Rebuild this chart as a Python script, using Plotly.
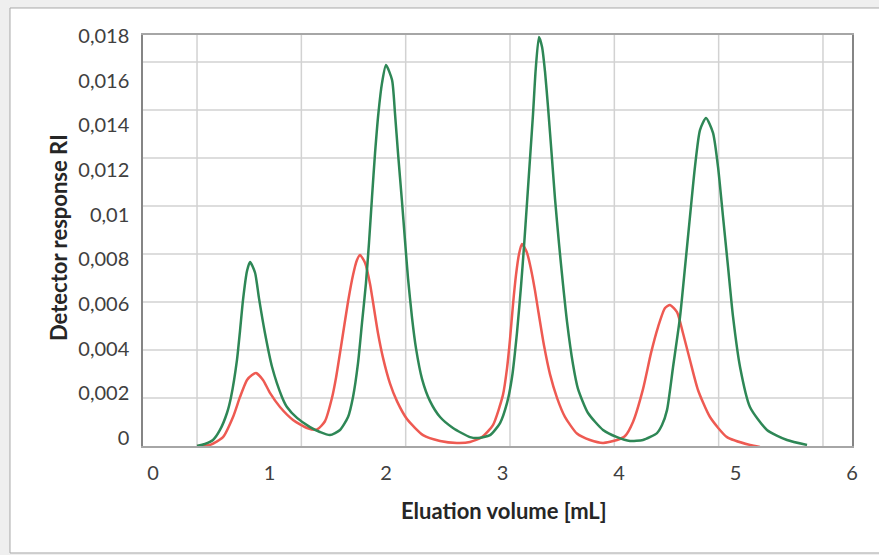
import plotly.graph_objects as go

# ---------------- data ----------------
VOLUME_GREEN = [0.378, 0.446, 0.515, 0.575, 0.635, 0.670, 0.721, 0.747, 0.773, 0.807,
                0.833, 0.876, 0.910, 0.961, 1.021, 1.107, 1.150, 1.236, 1.348, 1.433,
                1.519, 1.605, 1.674, 1.717, 1.760, 1.794, 1.828, 1.854, 1.880, 1.906,
                1.935, 1.966, 2.000, 2.052, 2.077, 2.103, 2.137, 2.163, 2.189, 2.223,
                2.258, 2.309, 2.378, 2.464, 2.575, 2.721, 2.790, 2.893, 2.979, 3.039,
                3.082, 3.124, 3.159, 3.185, 3.210, 3.236, 3.262, 3.285, 3.313, 3.340,
                3.365, 3.391, 3.425, 3.451, 3.485, 3.519, 3.554, 3.605, 3.648, 3.734,
                3.863, 3.983, 4.094, 4.206, 4.326, 4.369, 4.412, 4.464, 4.524, 4.567,
                4.609, 4.652, 4.695, 4.747, 4.807, 4.850, 4.893, 4.936, 4.979, 5.039,
                5.124, 5.270, 5.442, 5.614]
RESPONSE_GREEN = [-0.00036, -0.00027, -0.00009, 0.00036, 0.00112, 0.00184, 0.00350, 0.00480, 0.00620, 0.00748,
                  0.00788, 0.00740, 0.00625, 0.00470, 0.00320, 0.00184, 0.00139, 0.00090, 0.00049, 0.00027,
                  0.00013, 0.00036, 0.00094, 0.00184, 0.00336, 0.00515, 0.00694, 0.00873, 0.01079, 0.01276,
                  0.01455, 0.01590, 0.01670, 0.01603, 0.01455, 0.01276, 0.01060, 0.00885, 0.00715, 0.00540,
                  0.00400, 0.00265, 0.00165, 0.00094, 0.00045, 0.00004, 0.00000, 0.00013, 0.00067, 0.00157,
                  0.00273, 0.00470, 0.00680, 0.00860, 0.01050, 0.01250, 0.01450, 0.01650, 0.01796, 0.01750,
                  0.01640, 0.01480, 0.01250, 0.01070, 0.00870, 0.00690, 0.00520, 0.00330, 0.00220, 0.00112,
                  0.00036, 0.00004, -0.00013, -0.00009, 0.00022, 0.00058, 0.00125, 0.00318, 0.00542, 0.00766,
                  0.00990, 0.01214, 0.01379, 0.01433, 0.01366, 0.01214, 0.00990, 0.00766, 0.00542, 0.00318,
                  0.00139, 0.00036, -0.00009, -0.00031]

VOLUME_RED = [0.378, 0.489, 0.601, 0.687, 0.747, 0.807, 0.850, 0.884, 0.944, 1.004,
              1.090, 1.202, 1.322, 1.408, 1.476, 1.536, 1.571, 1.614, 1.674, 1.717,
              1.751, 1.777, 1.820, 1.863, 1.888, 1.931, 1.974, 2.034, 2.094, 2.180,
              2.318, 2.464, 2.609, 2.721, 2.824, 2.918, 3.004, 3.039, 3.064, 3.090,
              3.116, 3.142, 3.167, 3.210, 3.245, 3.279, 3.305, 3.356, 3.408, 3.468,
              3.536, 3.639, 3.751, 3.863, 3.983, 4.052, 4.120, 4.206, 4.275, 4.335,
              4.395, 4.438, 4.498, 4.549, 4.609, 4.678, 4.781, 4.927, 5.124, 5.210]
RESPONSE_RED = [-0.00036, -0.00031, 0.00004, 0.00094, 0.00184, 0.00260, 0.00282, 0.00291, 0.00260, 0.00202,
                0.00139, 0.00081, 0.00045, 0.00038, 0.00075, 0.00179, 0.00270, 0.00410, 0.00610, 0.00730,
                0.00797, 0.00819, 0.00785, 0.00690, 0.00610, 0.00470, 0.00360, 0.00245, 0.00165, 0.00085,
                0.00013, -0.00013, -0.00022, -0.00018, 0.00004, 0.00058, 0.00193, 0.00313, 0.00439, 0.00596,
                0.00730, 0.00824, 0.00869, 0.00830, 0.00755, 0.00660, 0.00575, 0.00415, 0.00285, 0.00180,
                0.00095, 0.00020, -0.00009, -0.00022, -0.00009, 0.00009, 0.00072, 0.00219, 0.00381, 0.00497,
                0.00582, 0.00596, 0.00564, 0.00470, 0.00349, 0.00215, 0.00094, 0.00004, -0.00031, -0.00040]

X_TICKS = [0, 1, 2, 3, 4, 5, 6]
X_TICK_TEXT = ["0", "1", "2", "3", "4", "5", "6"]
Y_TICKS = [0, 0.002, 0.004, 0.006, 0.008, 0.010, 0.012, 0.014, 0.016, 0.018]
Y_TICK_TEXT = ["0", "0,002", "0,004", "0,006", "0,008", "0,01", "0,012", "0,014", "0,016", "0,018"]
X_TITLE = "Eluation volume [mL]"
Y_TITLE = "Detector response RI"

# ---------------- style ----------------
GREEN = "#2e8756"
RED = "#ee5a52"
TEXT = "#404040"
FONT = "Lato"
GRID = "#d2d2d2"
X_RANGE = [-0.0858, 6.0]
Y_RANGE = [-0.000358, 0.018045]
VGRID_START, VGRID_STEP, VGRID_N = 0.378, 0.8955, 7
HGRID_START, HGRID_STEP, HGRID_N = 0.001791, 0.0021493, 8

fig = go.Figure()
fig.add_trace(go.Scatter(x=VOLUME_RED, y=RESPONSE_RED, mode="lines",
                         line=dict(color=RED, width=2.5, shape="spline", smoothing=0.6),
                         showlegend=False, hoverinfo="skip"))
fig.add_trace(go.Scatter(x=VOLUME_GREEN, y=RESPONSE_GREEN, mode="lines",
                         line=dict(color=GREEN, width=2.5, shape="spline", smoothing=0.6),
                         showlegend=False, hoverinfo="skip"))

shapes = [dict(type="rect", xref="paper", yref="paper", x0=-0.1876, x1=1.06, y0=-0.2603, y1=1.0657,
               fillcolor="white", line=dict(color="#a8a8a8", width=1), layer="below")]
for k in range(VGRID_N):
    xv = VGRID_START + k * VGRID_STEP
    shapes.append(dict(type="line", xref="x", yref="paper", x0=xv, x1=xv, y0=0, y1=1,
                       line=dict(color=GRID, width=1.5), layer="below"))
for k in range(HGRID_N):
    yv = HGRID_START + k * HGRID_STEP
    shapes.append(dict(type="line", xref="paper", yref="y", x0=0, x1=1, y0=yv, y1=yv,
                       line=dict(color=GRID, width=1.5), layer="below"))

fig.update_layout(
    width=879, height=555, autosize=False,
    margin=dict(l=143, r=27, t=35, b=109),
    paper_bgcolor="#efefef", plot_bgcolor="white",
    font=dict(family=FONT, size=20, color=TEXT),
    shapes=shapes,
    xaxis=dict(range=X_RANGE, tickvals=X_TICKS, ticktext=X_TICK_TEXT, showgrid=False,
               zeroline=False, showline=True, linecolor="#a6a6a6", linewidth=1.5, mirror=True,
               ticks="", ticklabelstandoff=8, tickfont=dict(family=FONT, size=20, color=TEXT)),
    yaxis=dict(range=Y_RANGE, tickvals=Y_TICKS, ticktext=Y_TICK_TEXT, showgrid=False,
               zeroline=False, showline=True, linecolor="#858585", linewidth=1.5, mirror=True,
               ticks="", ticklabelstandoff=8, tickfont=dict(family=FONT, size=20, color=TEXT)),
    annotations=[
        dict(text="<b>" + X_TITLE + "</b>", xref="paper", yref="paper", x=0.5085, y=-0.158,
             xanchor="center", yanchor="middle", showarrow=False,
             font=dict(family=FONT, size=22, color="#262626")),
        dict(text="<b>" + Y_TITLE + "</b>", xref="paper", yref="paper", x=-0.1199, y=0.5085,
             xanchor="center", yanchor="middle", textangle=-90, showarrow=False,
             font=dict(family=FONT, size=22, color="#262626")),
    ],
)

fig.write_html("out.html")
